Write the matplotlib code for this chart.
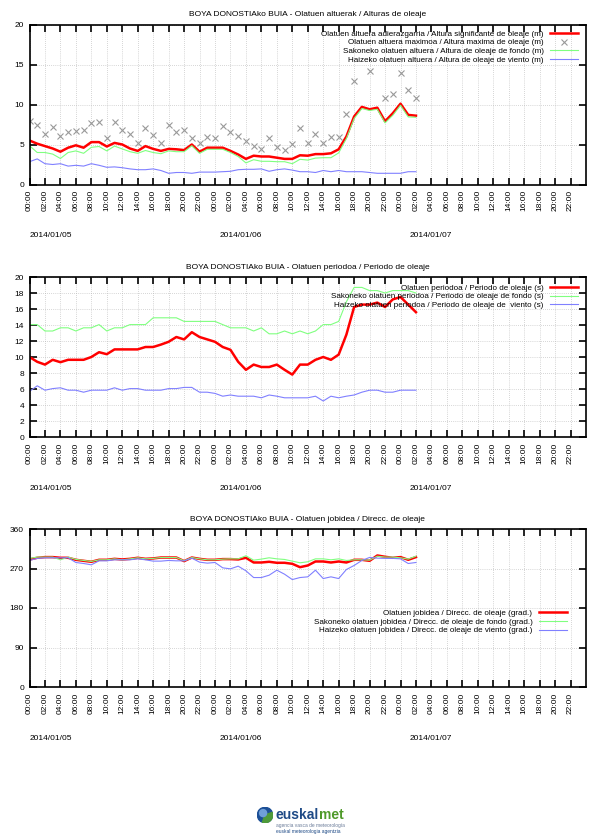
import matplotlib
matplotlib.use('Agg')
import matplotlib.pyplot as plt
import matplotlib.transforms as mtransforms
from matplotlib.patches import Circle, Wedge
import numpy as np

plt.rcParams['font.family'] = ['Liberation Sans', 'DejaVu Sans']

# hourly readings from 2014/01/05 00:00 to 2014/01/07 02:00
hours = np.arange(51)
days = ['2014/01/05', '2014/01/06', '2014/01/07']
tick_labels = ['%02d:00' % h for h in range(0, 24, 2)] * 3
nan = np.nan

# wave heights (m)
hs = [5.5, 5.1, 4.8, 4.5, 4.1, 4.6, 4.9, 4.6, 5.3, 5.3,
      4.75, 5.2, 5.0, 4.5, 4.2, 4.8, 4.45, 4.2, 4.45, 4.4,
      4.3, 5.0, 4.1, 4.6, 4.6, 4.6, 4.2, 3.75, 3.2, 3.6,
      3.5, 3.5, 3.35, 3.2, 3.2, 3.65, 3.6, 3.8, 3.8, 3.9,
      4.4, 6.0, 8.5, 9.7, 9.4, 9.6, 7.9, 8.9, 10.1, 8.7,
      8.6]
hmax = [8.0, 7.45, 6.35, 7.2, 6.05, 6.6, 6.65, 6.8, 7.75, 7.85,
        5.85, 7.85, 6.8, 6.35, 5.25, 7.1, 6.15, 5.25, 7.45, 6.6,
        6.85, 5.85, 5.25, 5.95, 5.85, 7.35, 6.6, 6.1, 5.45, 4.85,
        4.4, 5.85, 4.7, 4.3, 5.1, 7.1, 5.25, 6.35, 5.25, 6.0,
        6.0, 8.85, 12.95, nan, 14.25, nan, 10.85, 11.35, 13.95, 11.85,
        10.85]
h_fondo = [4.85, 4.0, 4.0, 3.8, 3.25, 4.0, 4.2, 3.9, 4.65, 4.75,
           4.2, 4.8, 4.45, 4.1, 3.9, 4.25, 4.0, 3.85, 4.2, 4.1,
           4.1, 4.85, 3.9, 4.4, 4.4, 4.4, 4.0, 3.5, 2.7, 3.1,
           2.9, 2.9, 2.85, 2.85, 2.6, 3.15, 3.05, 3.3, 3.35, 3.35,
           3.95, 5.75, 8.25, 9.5, 9.25, 9.4, 7.7, 8.65, 9.9, 8.45,
           8.4]
h_viento = [2.85, 3.2, 2.6, 2.5, 2.6, 2.3, 2.4, 2.3, 2.6, 2.4,
            2.15, 2.2, 2.1, 1.95, 1.85, 1.85, 1.95, 1.75, 1.4, 1.5,
            1.5, 1.4, 1.55, 1.55, 1.55, 1.6, 1.65, 1.85, 1.9, 1.9,
            1.95, 1.65, 1.85, 1.95, 1.8, 1.6, 1.6, 1.5, 1.75, 1.6,
            1.75, 1.6, 1.6, 1.6, 1.5, 1.4, 1.4, 1.4, 1.4, 1.6,
            1.6]

# wave periods (s)
t_ola = [10.0, 9.4, 9.05, 9.65, 9.35, 9.65, 9.65, 9.65, 10.0, 10.6,
         10.35, 10.95, 10.95, 10.95, 10.95, 11.25, 11.25, 11.55, 11.9, 12.5,
         12.2, 13.1, 12.5, 12.2, 11.9, 11.25, 10.9, 9.4, 8.4, 9.05,
         8.75, 8.75, 9.05, 8.4, 7.8, 9.05, 9.05, 9.65, 10.0, 9.65,
         10.3, 12.8, 16.25, 16.55, 16.55, 16.8, 16.25, 17.2, 17.5, 16.55,
         15.6]
t_fondo = [14.05, 14.05, 13.25, 13.25, 13.65, 13.65, 13.25, 13.65, 13.65, 14.05,
           13.25, 13.65, 13.65, 14.05, 14.05, 14.05, 14.9, 14.9, 14.9, 14.9,
           14.45, 14.45, 14.45, 14.45, 14.45, 14.05, 13.65, 13.65, 13.65, 13.25,
           13.65, 12.9, 12.9, 13.25, 12.9, 13.25, 12.9, 13.25, 14.05, 14.05,
           14.45, 16.9, 18.7, 18.7, 18.3, 18.3, 18.0, 18.3, 18.3, 18.3,
           18.0]
t_viento = [5.7, 6.4, 5.85, 6.05, 6.15, 5.85, 5.85, 5.6, 5.85, 5.85,
            5.85, 6.15, 5.85, 6.05, 6.05, 5.85, 5.85, 5.85, 6.05, 6.05,
            6.2, 6.2, 5.6, 5.6, 5.45, 5.1, 5.25, 5.1, 5.1, 5.1,
            4.9, 5.25, 5.1, 4.9, 4.9, 4.9, 4.9, 5.1, 4.5, 5.1,
            4.9, 5.1, 5.25, 5.6, 5.85, 5.85, 5.6, 5.6, 5.85, 5.85,
            5.85]

# wave directions (deg)
d_ola = [290.6, 294.4, 296, 296, 294.4, 294.4, 289.8, 287.5, 285.3, 289.8,
         289.8, 292, 290.6, 292, 294.4, 292, 293, 295, 295, 295,
         286.8, 295, 292, 289.8, 289.8, 291.4, 291.4, 290.6, 294.4, 283.7,
         283.7, 285.3, 283, 283, 280.7, 273, 276.9, 286, 286, 283.7,
         286, 283.7, 289.8, 289.8, 287.5, 299.7, 296.7, 294.4, 296, 289.8,
         296]
d_fondo = [293, 296, 296, 296, 289.8, 296, 290.6, 288.3, 286, 289.8,
           289.8, 292, 289.8, 292, 294.4, 292, 293, 295, 295, 295,
           287.5, 295, 292, 289.8, 289.8, 291.4, 292, 292, 299, 289,
           291.4, 294.4, 292, 290.6, 286.8, 283, 285.3, 292, 292, 289.8,
           292, 288.3, 289.8, 289.8, 289, 298, 296, 296, 294.4, 291.4,
           298]
d_viento = [288.3, 293, 294.4, 294.4, 294.4, 294.4, 283.7, 281.4, 278.4, 287.5,
            287.5, 289.8, 289.8, 289.8, 292, 289.8, 286.8, 286.8, 288.3, 287.5,
            287.5, 293.6, 284.5, 282.2, 283.7, 271.5, 269.2, 275.3, 264.7, 249.4,
            249.4, 254.7, 266.2, 257, 244.8, 249.4, 251, 266.2, 247.1, 251,
            247.1, 267.7, 276.9, 288.3, 295.2, 293.6, 293, 293, 292, 281.4,
            283.7]

RED = '#ff0000'
GREEN = '#80ff80'
BLUE = '#8080ff'
GRAY = '#999999'


def setup_axes(ax, title, yticks):
    ax.set_xlim(0, 72)
    ax.set_ylim(yticks[0], yticks[-1])
    ax.set_xticks(np.arange(0, 72, 2))
    ax.set_xticklabels(tick_labels, rotation=90)
    ax.set_yticks(yticks)
    ax.tick_params(direction='in', top=True, right=True, length=5, width=1.2,
                   labelsize=6, pad=4)
    ax.grid(True, color='#b0b0b0', linestyle=(0, (1, 2)), linewidth=0.5)
    for s in ax.spines.values():
        s.set_linewidth(1.2)
    ax.set_title(title, fontsize=6, pad=6)
    # date labels under the hour ticks
    trans = mtransforms.blended_transform_factory(ax.transData, ax.transAxes)
    shift = mtransforms.ScaledTranslation(0, -0.51, ax.figure.dpi_scale_trans)
    for d, day in enumerate(days):
        ax.text(d * 24.6, 0, day, transform=trans + shift, fontsize=6,
                ha='left', va='center')


def add_legend(ax, anchor):
    leg = ax.legend(loc='upper right', bbox_to_anchor=anchor, frameon=False,
                    markerfirst=False, fontsize=5.8, handlelength=3.5,
                    handletextpad=0.8, labelspacing=0.12, borderpad=0,
                    borderaxespad=0, numpoints=1)
    # right-align the rows like the gnuplot key
    for col in leg._legend_handle_box.get_children():
        col.align = 'right'


fig = plt.figure(figsize=(6, 8.4), dpi=100)
left, width, height = 29.5 / 600, 556.5 / 600, 160 / 840

# wave heights
ax1 = fig.add_axes([left, 1 - 184.5 / 840, width, height])
ax1.plot(hours, hs, color=RED, lw=1.8,
         label='Olatuen altuera adierazgarria / Altura significante de oleaje (m)')
ax1.plot(hours, hmax, linestyle='none', marker='x', color=GRAY, ms=4.5, mew=0.8,
         label='Olatuen altuera maximoa / Altura maxima de oleaje (m)')
ax1.plot(hours, h_fondo, color=GREEN, lw=0.8,
         label='Sakoneko olatuen altuera / Altura de oleaje de fondo (m)')
ax1.plot(hours, h_viento, color=BLUE, lw=0.8,
         label='Haizeko olatuen altuera / Altura de oleaje de viento (m)')
setup_axes(ax1, 'BOYA DONOSTIAko BUIA - Olatuen altuerak / Alturas de oleaje',
           [0, 5, 10, 15, 20])
add_legend(ax1, (0.986, 0.965))

# wave periods
ax2 = fig.add_axes([left, 1 - 437 / 840, width, height])
ax2.plot(hours, t_ola, color=RED, lw=1.8,
         label='Olatuen periodoa / Periodo de oleaje (s)')
ax2.plot(hours, t_fondo, color=GREEN, lw=0.8,
         label='Sakoneko olatuen periodoa / Periodo de oleaje de fondo (s)')
ax2.plot(hours, t_viento, color=BLUE, lw=0.8,
         label='Haizeko olatuen periodoa / Periodo de oleaje de  viento (s)')
setup_axes(ax2, 'BOYA DONOSTIAko BUIA - Olatuen periodoa / Periodo de oleaje',
           [0, 2, 4, 6, 8, 10, 12, 14, 16, 18, 20])
add_legend(ax2, (0.986, 0.955))

# wave directions
ax3 = fig.add_axes([left, 1 - 687 / 840, width, 158 / 840])
ax3.plot(hours, d_ola, color=RED, lw=1.8,
         label='Olatuen jobidea / Direcc. de oleaje (grad.)')
ax3.plot(hours, d_fondo, color=GREEN, lw=0.8,
         label='Sakoneko olatuen jobidea / Direcc. de oleaje de fondo (grad.)')
ax3.plot(hours, d_viento, color=BLUE, lw=0.8,
         label='Haizeko olatuen jobidea / Direcc. de oleaje de viento (grad.)')
setup_axes(ax3, 'BOYA DONOSTIAko BUIA - Olatuen jobidea / Direcc. de oleaje',
           [0, 90, 180, 270, 360])
add_legend(ax3, (0.966, 0.49))

# euskalmet logo
gax = fig.add_axes([257 / 600, 1 - 823 / 840, 16 / 600, 16 / 840])
gax.set_xlim(0, 1)
gax.set_ylim(0, 1)
gax.set_aspect('equal')
gax.axis('off')
gax.add_patch(Circle((0.5, 0.5), 0.48, color='#1c4f96'))
gax.add_patch(Wedge((0.5, 0.5), 0.48, 250, 20, color='#4f9a3a'))
gax.add_patch(Circle((0.38, 0.62), 0.22, color='#6f9fd8'))
fig.text(319 / 600, 1 - 815 / 840, 'euskal', ha='right', va='center',
         fontsize=10, fontweight='bold', color='#1e4a86')
fig.text(319 / 600, 1 - 815 / 840, 'met', ha='left', va='center',
         fontsize=10, fontweight='bold', color='#4f9a2a')
fig.text(276 / 600, 1 - 826 / 840, 'agencia vasca de meteorología', ha='left',
         va='center', fontsize=3.5, color='#6b7c99')
fig.text(276 / 600, 1 - 832 / 840, 'euskal meteorologia agentzia', ha='left',
         va='center', fontsize=3.5, color='#1e4a86')

fig.savefig('out.png', dpi=100)
plt.close(fig)
